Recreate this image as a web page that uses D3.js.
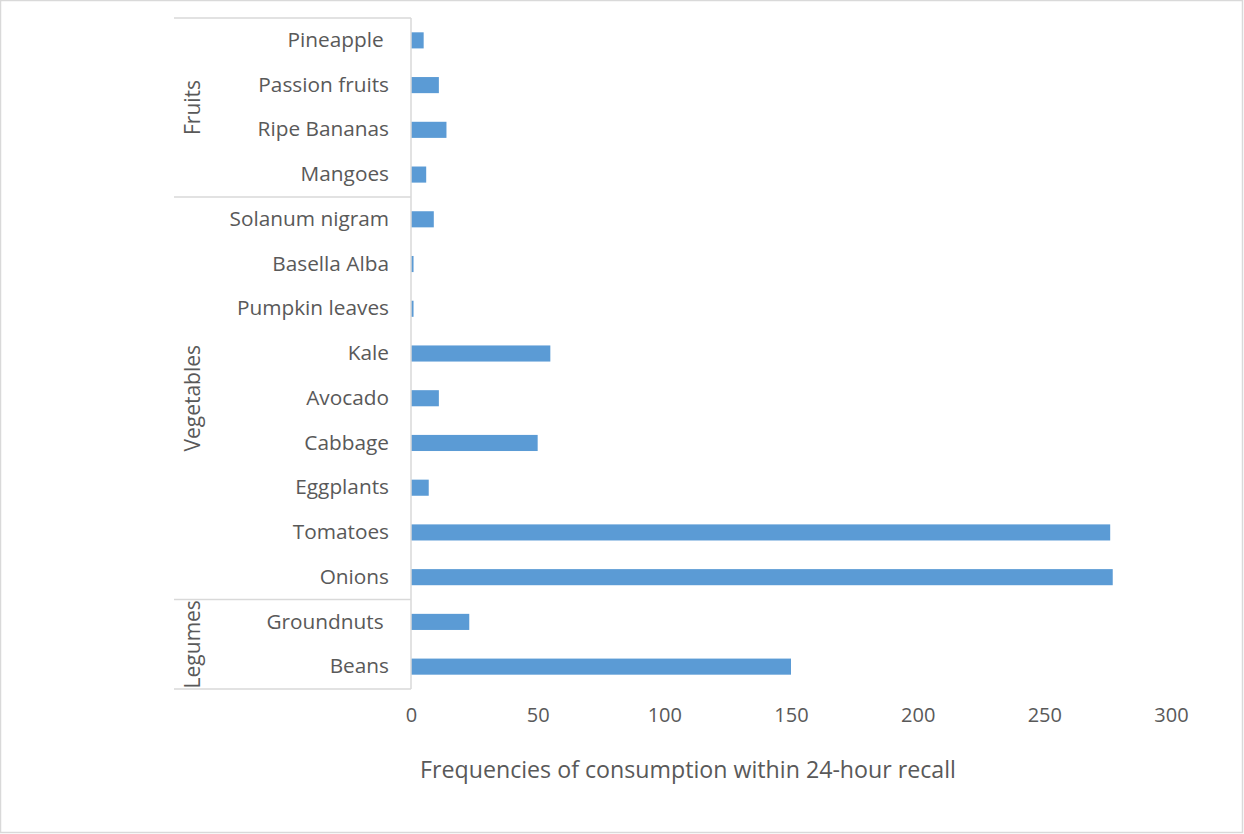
<!DOCTYPE html>
<html><head><meta charset="utf-8">
<script src="https://cdn.jsdelivr.net/npm/d3@7"></script>
<style>
html,body{margin:0;padding:0;background:#fff;}
svg text{font-family:"Open Sans",Calibri,sans-serif;fill:#595959;white-space:pre;}
</style></head>
<body><svg id="c" width="1244" height="834"></svg>
<script>
// Categories listed top to bottom
const categories = ["Pineapple ","Passion fruits","Ripe Bananas","Mangoes","Solanum nigram","Basella Alba","Pumpkin leaves","Kale","Avocado","Cabbage","Eggplants","Tomatoes","Onions","Groundnuts ","Beans"];
const values = [5,11,14,6,9,1,1,55,11,50,7,276,277,23,150];
const groups = ["Fruits","Vegetables","Legumes"];
const groupSizes = [4,9,2];
const xTicks = [0,50,100,150,200,250,300];
const xTitle = "Frequencies of consumption within 24-hour recall";

const svg = d3.select("#c");
svg.append("rect").attr("x",0.5).attr("y",0.5).attr("width",1242).attr("height",832)
  .attr("fill","#fff").attr("stroke","#d9d9d9").attr("stroke-width",1.5);

const pLeft = 411, pRight = 1171, pTop = 18, pBottom = 689, groupLeft = 174;
const x = d3.scaleLinear().domain([0,300]).range([pLeft,pRight]);
const y = d3.scaleBand().domain(categories).range([pTop,pBottom]).paddingInner(0.64).paddingOuter(0.32);

// bars
svg.append("g").selectAll("rect").data(categories).join("rect")
  .attr("x", x(0)).attr("y", d=>y(d))
  .attr("width", (d,i)=>x(values[i])-x(0)).attr("height", y.bandwidth())
  .attr("fill","#5b9bd5");

// x axis tick labels
const xAxis = d3.axisBottom(x).tickValues(xTicks).tickSize(0).tickPadding(0);
const gx = svg.append("g").attr("transform",`translate(0,${pBottom+19})`).call(xAxis);
gx.select(".domain").remove();
gx.selectAll("text").attr("font-size",20).attr("fill","#595959").style("font-family","'Open Sans',sans-serif");

// y axis line
svg.append("line").attr("x1",pLeft).attr("x2",pLeft).attr("y1",pTop).attr("y2",pBottom)
  .attr("stroke","#d9d9d9").attr("stroke-width",1.5);

// category labels
const yAxis = d3.axisLeft(y).tickSize(0).tickPadding(22);
const gy = svg.append("g").attr("transform",`translate(${pLeft},0)`).call(yAxis);
gy.select(".domain").remove();
gy.selectAll("text").attr("font-size",20.8).attr("fill","#595959").style("font-family","'Open Sans',sans-serif");

// group separators and labels
const step = y.step();
let idx = 0;
const bounds = [pTop];
groupSizes.forEach(n=>{ idx += n; bounds.push(pTop + idx*step); });
svg.append("g").selectAll("line").data(bounds).join("line")
  .attr("x1",groupLeft).attr("x2",pLeft).attr("y1",d=>d).attr("y2",d=>d)
  .attr("stroke","#d9d9d9").attr("stroke-width",1.5);
svg.append("g").selectAll("text").data(groups).join("text")
  .attr("transform",(d,i)=>`translate(${200},${(bounds[i]+bounds[i+1])/2}) rotate(-90)`)
  .attr("text-anchor","middle").attr("font-size",21).text(d=>d);

// x axis title
svg.append("text").attr("x",688).attr("y",778).attr("text-anchor","middle")
  .attr("font-size",23.2).text(xTitle);
</script></body></html>
